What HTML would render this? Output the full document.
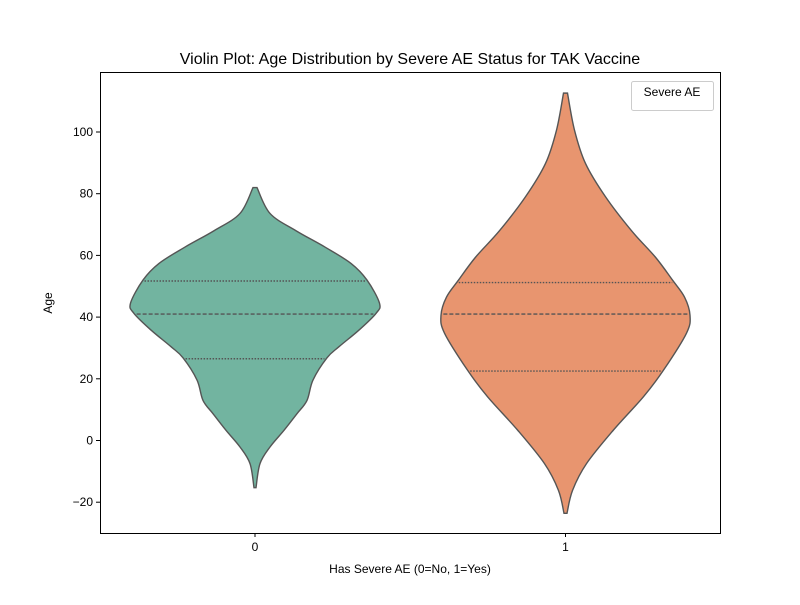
<!DOCTYPE html>
<html><head><meta charset="utf-8"><style>
body{margin:0;background:#fff}
svg text{font-family:"Liberation Sans","DejaVu Sans",sans-serif}
</style></head><body>
<svg id="chart" width="800" height="600" viewBox="0 0 800 600" xmlns="http://www.w3.org/2000/svg">
<rect width="800" height="600" fill="#fff"/>
<text x="410" y="64" font-size="16" text-anchor="middle">Violin Plot: Age Distribution by Severe AE Status for TAK Vaccine</text>
<g id="plot"></g>
<rect x="100.5" y="72.5" width="620" height="461" fill="none" stroke="#000" stroke-width="1"/>
<g id="axes"></g>
<text x="410" y="573" font-size="12" text-anchor="middle">Has Severe AE (0=No, 1=Yes)</text>
<text transform="translate(52,303) rotate(-90)" font-size="12" text-anchor="middle">Age</text>
<g>
<rect x="631.5" y="81.5" width="82" height="29" rx="2" fill="#fff" stroke="#ccc"/>
<text x="672" y="96" font-size="12" text-anchor="middle">Severe AE</text>
</g>
</svg>
<script>
const categories = ["0","1"];
const ages0 = [82,73.6,68,62.7,57.4,52,44.5,41.2,35.8,30.4,26.8,19.6,13,8.7,3.3,-2.1,-7.5,-15.3];
const width0 = [2,15,41,70,96,112,124.5,121,104,84,72,58,52,42,29,15,5,1];
const ages1 = [112.6,100.6,89.8,79,68,59.4,52,46.5,40.6,34.8,22.8,14.2,3.4,-7.5,-16.2,-23.6];
const width1 = [2,9,20,40,66,90,107,119,124.5,121,98,78,48,21,7,1.5];
const quartiles0 = [26.5,41.0,51.7];
const quartiles1 = [22.5,41.0,51.2];
const yTicks = [-20,0,20,40,60,80,100];
const colors = ["#72b4a0","#e8956f"];

const X0=100,X1=720,Y0=72,Y1=533;
function yScale(v){return 440.5 - v*3.085;}
function xScale(i){return 255 + i*310.5;}
const ns="http://www.w3.org/2000/svg";
const plot=document.getElementById('plot'), axes=document.getElementById('axes');
function mk(t,a,p){const e=document.createElementNS(ns,t);for(const k in a)e.setAttribute(k,a[k]);p.appendChild(e);return e;}
function smooth(pts){let d="M"+pts[0][0]+","+pts[0][1];
 for(let i=0;i<pts.length-1;i++){const p0=pts[Math.max(0,i-1)],p1=pts[i],p2=pts[i+1],p3=pts[Math.min(pts.length-1,i+2)];
  const c1=[p1[0]+(p2[0]-p0[0])/6,p1[1]+(p2[1]-p0[1])/6],c2=[p2[0]-(p3[0]-p1[0])/6,p2[1]-(p3[1]-p1[1])/6];
  d+=" C"+c1.join(",")+" "+c2.join(",")+" "+p2.join(",");}
 return d;}
function interp(ages,w,a){for(let i=0;i<ages.length-1;i++){if(a<=ages[i]&&a>=ages[i+1]){const t=(ages[i]-a)/(ages[i]-ages[i+1]);return w[i]+(w[i+1]-w[i])*t;}}return 0;}
const data=[[ages0,width0,quartiles0],[ages1,width1,quartiles1]];
data.forEach((d,i)=>{
 const cx=xScale(i);const ages=d[0],w=d[1];
 const right=ages.map((a,j)=>[cx+w[j],yScale(a)]);
 const left=ages.map((a,j)=>[cx-w[j],yScale(a)]).reverse();
 let p=smooth(right)+" L"+left[0].join(",")+smooth(left).slice(1).replace(/^[^C]*/,"")+" Z";
 const path=mk('path',{d:p,fill:colors[i],stroke:"#555",'stroke-width':1.4},plot);
 
 
 d[2].forEach((q,k)=>{const hw=interp(ages,w,q);const y=yScale(q);
  const l=mk('line',{x1:cx-hw+2,x2:cx+hw-2,y1:y,y2:y,stroke:"#555",'stroke-width':1.4,'stroke-dasharray':k==1?"4,2":"1.5,1.5"},plot);
  
  });
 mk('line',{x1:cx,x2:cx,y1:Y1,y2:Y1+4,stroke:"#000"},axes);
 const t=mk('text',{x:cx,y:Y1+18,'font-size':12,'text-anchor':'middle'},axes);t.textContent=categories[i];
 
 
});
yTicks.forEach(v=>{const y=yScale(v);
 mk('line',{x1:X0-4,x2:X0,y1:y,y2:y,stroke:"#000"},axes);
 const t=mk('text',{x:X0-7,y:y+4,'font-size':12,'text-anchor':'end'},axes);t.textContent=v<0?"\u2212"+(-v):v;
 
 
});
</script>
</body></html>
